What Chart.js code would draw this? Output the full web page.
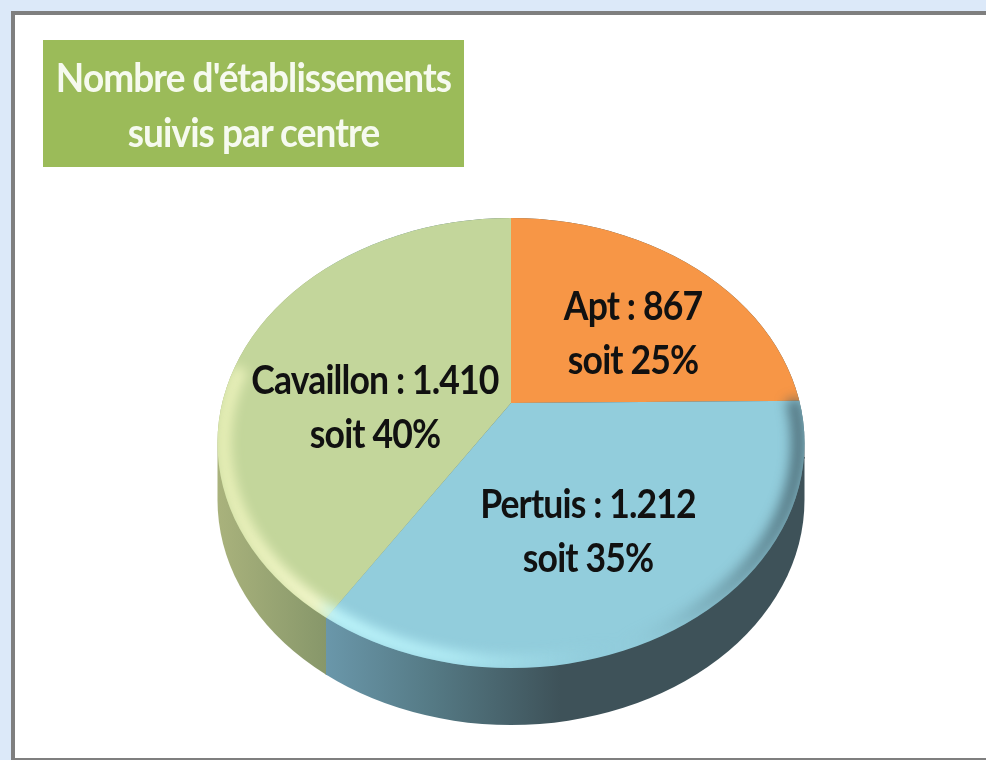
<!DOCTYPE html>
<html>
<head>
<meta charset="utf-8">
<title>Nombre d'établissements suivis par centre</title>
<script src="https://cdn.jsdelivr.net/npm/chart.js"></script>
<style>
    html, body { margin: 0; width: 986px; height: 760px; overflow: hidden; background: #dce9f9; }
    .frame {
        position: absolute; left: 11px; top: 11px; width: 1000px; height: 743px;
        background: #fff; border: 4px solid #7f7f7f; box-sizing: content-box; filter: blur(0.6px);
    }
    .title {
        position: absolute; left: 43px; top: 40px; width: 421px; height: 127px;
        background: #9bbb59; filter: blur(0.5px);
    }
    .title div {
        position: absolute; left: -40px; top: 10px; width: 501px; text-align: center;
        color: #f6faef; font: bold 40px/55px Lato, sans-serif; letter-spacing: -1px;
        transform: scaleX(0.925);
    }
    canvas { position: absolute; left: 0; top: 0; filter: blur(0.5px); }
</style>
</head>
<body>
<div class="frame"></div>
<div class="title"><div>Nombre d'établissements<br>suivis par centre</div></div>
<canvas id="pie" width="986" height="760"></canvas>
<script>
// Data
const centres = ['Apt', 'Pertuis', 'Cavaillon'];
const etablissements = [867, 1212, 1410];
const etablissementsText = ['867', '1.212', '1.410'];
const parts = [25, 35, 40];
const colors = ['#f79646', '#92cddc', '#c3d69b'];

// The disc: slices meet at (511,403) but the outline is centred lower, as in the perspective view
const discX = 511, discY = 443, rx = 293.5, ry = 225, depth = 57, squash = 0.8;
const seamX = 326;
const labelPos = [[633, 307], [588, 505], [375, 381]];

const ctx = document.getElementById('pie').getContext('2d');

// Apply the squash around the centre of the pie
function squashed(arc) {
    ctx.translate(arc.x, arc.y);
    ctx.scale(1, squash);
    ctx.translate(-arc.x, -arc.y);
}

// One part of the side wall: the arcs moved down, refilled, cut at left/right of x
function drawSide(arcs, left, width, fill) {
    ctx.save();
    ctx.beginPath();
    ctx.ellipse(discX, discY + depth, rx, ry, 0, 0, Math.PI);
    ctx.lineTo(discX - rx, discY);
    ctx.ellipse(discX, discY, rx, ry, 0, Math.PI, Math.PI * 2);
    ctx.closePath();
    ctx.clip();
    ctx.beginPath();
    ctx.rect(left, 0, width, 760);
    ctx.clip();
    ctx.translate(0, depth);
    squashed(arcs[0]);
    arcs.forEach((arc) => {
        const opts = arc.options;
        arc.options = Object.assign({}, opts, { backgroundColor: fill, borderColor: fill, borderWidth: 2 });
        arc.draw(ctx);
        arc.options = opts;
    });
    ctx.restore();
}

const pie3d = {
    id: 'pie3d',
    beforeDatasetsDraw(chart) {
        const arcs = chart.getDatasetMeta(0).data;

        const green = ctx.createLinearGradient(218, 0, seamX, 0);
        green.addColorStop(0, '#a9b27c');
        green.addColorStop(1, '#87976a');
        const blue = ctx.createLinearGradient(seamX, 0, 560, 0);
        blue.addColorStop(0, '#6a97aa');
        blue.addColorStop(0.45, '#557a85');
        blue.addColorStop(1, '#3e5259');
        drawSide(arcs, 0, seamX, green);
        drawSide(arcs, seamX, 986 - seamX, blue);

        // top surface, drawn by the chart itself inside this clip
        ctx.save();
        ctx.beginPath();
        ctx.ellipse(discX, discY, rx, ry, 0, 0, Math.PI * 2);
        ctx.clip();
        squashed(arcs[0]);
    },
    afterDatasetsDraw(chart) {
        ctx.restore();
        const arcs = chart.getDatasetMeta(0).data;

        // bevel along the front edge
        ctx.save();
        ctx.beginPath();
        ctx.ellipse(discX, discY, rx, ry, 0, 0, Math.PI * 2);
        ctx.clip();
        const rim = ctx.createLinearGradient(discX - rx, 0, discX + rx, 0);
        rim.addColorStop(0, 'rgba(255,255,200,0.6)');
        rim.addColorStop(0.17, 'rgba(255,255,215,0.85)');
        rim.addColorStop(0.2, 'rgba(195,250,255,0.9)');
        rim.addColorStop(0.4, 'rgba(190,248,255,0.7)');
        rim.addColorStop(0.56, 'rgba(170,230,240,0.3)');
        rim.addColorStop(0.68, 'rgba(146,205,220,0)');
        rim.addColorStop(0.82, 'rgba(70,100,110,0.25)');
        rim.addColorStop(1, 'rgba(60,85,95,0.75)');
        ctx.filter = 'blur(6px)';
        ctx.strokeStyle = rim;
        ctx.lineWidth = 15;
        ctx.beginPath();
        ctx.ellipse(discX, discY, rx - 6, ry - 6, 0, -0.2, Math.PI + 0.35);
        ctx.stroke();
        ctx.restore();

        // labels
        ctx.save();
        ctx.fillStyle = '#111';
        ctx.font = 'bold 40px Lato, sans-serif';
        ctx.letterSpacing = '-1px';
        ctx.textAlign = 'center';
        ctx.textBaseline = 'middle';
        arcs.forEach((arc, i) => {
            const [x, y] = labelPos[i];
            ctx.save();
            ctx.translate(x, y);
            ctx.scale(0.89, 1);
            ctx.fillText(centres[i] + ' : ' + etablissementsText[i], 0, 0);
            ctx.fillText('soit ' + parts[i] + '%', 0, 54);
            ctx.restore();
        });
        ctx.restore();
    }
};

new Chart(ctx, {
    type: 'pie',
    data: {
        labels: centres,
        datasets: [{
            data: etablissements,
            backgroundColor: colors,
            borderWidth: 0,
            clip: false
        }]
    },
    options: {
        responsive: false,
        animation: false,
        radius: 345,
        layout: { padding: { left: 36, top: 46 } },
        plugins: { legend: { display: false }, tooltip: { enabled: false } }
    },
    plugins: [pie3d]
});
</script>
</body>
</html>
